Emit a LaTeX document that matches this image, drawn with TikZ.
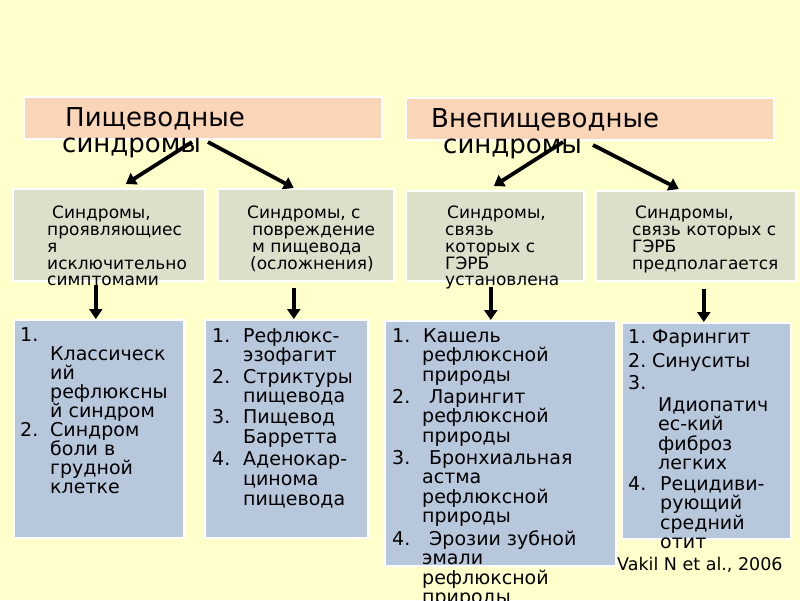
\documentclass[tikz,border=0pt]{standalone}
\usepackage{fontspec}
\setmainfont{DejaVu Sans}
\usetikzlibrary{arrows.meta}
\definecolor{bgyellow}{HTML}{FFFFCC}
\definecolor{peach}{HTML}{FBD5B8}
\definecolor{sage}{HTML}{DCDFC9}
\definecolor{steel}{HTML}{B8C8DC}
\newcommand\tline[5]{\node[#1] (#2) at (#3,#4) {#5};}
\begin{document}
\begin{tikzpicture}[x=1pt,y=-1pt,
  box/.style={draw=white,line width=1.6pt,anchor=north west,inner sep=0pt},
  thead/.style={anchor=base west,inner sep=0pt,font=\fontsize{26}{26}\selectfont},
  tmid/.style={anchor=base west,inner sep=0pt,font=\fontsize{17}{17}\selectfont},
  tlow/.style={anchor=base west,inner sep=0pt,font=\fontsize{19}{19.5}\selectfont},
  tref/.style={anchor=base west,inner sep=0pt,font=\fontsize{17.5}{18}\selectfont},
  arr/.style={line width=3.8pt,-{Triangle[length=10pt,width=13pt]}}]
\useasboundingbox (0,0) rectangle (800,600);
\clip (0,0) rectangle (800,600);
\fill[bgyellow] (0,0) rectangle (800,600);
% header boxes
\node[box,fill=peach,minimum width=358pt,minimum height=42pt] (H1) at (23,96) {};
\node[box,fill=peach,minimum width=368pt,minimum height=42pt] (H2) at (405,97) {};
% level 2 boxes
\node[box,fill=sage,minimum width=192pt,minimum height=92pt] (A) at (12,188) {};
\node[box,fill=sage,minimum width=176pt,minimum height=92pt] (B) at (217,188) {};
\node[box,fill=sage,minimum width=178pt,minimum height=90pt] (C) at (405,190) {};
\node[box,fill=sage,minimum width=200pt,minimum height=90pt] (D) at (595,190) {};
% level 3 boxes
\node[box,fill=steel,minimum width=170pt,minimum height=218pt] (E) at (13,319) {};
\node[box,fill=steel,minimum width=163pt,minimum height=218pt] (F) at (204,319) {};
\node[box,fill=steel,minimum width=231pt,minimum height=245pt] (G) at (384,320) {};
\node[box,fill=steel,minimum width=169pt,minimum height=216pt] (H) at (621,322) {};
% header texts
\tline{thead}{h1a}{65}{126}{Пищеводные}
\tline{thead}{h1b}{62}{152}{синдромы}
\tline{thead}{h2a}{431}{127}{Внепищеводные}
\tline{thead}{h2b}{443}{153}{синдромы}
% level 2 texts
\tline{tmid}{a1}{52}{218}{Синдромы,}
\tline{tmid}{a2}{47}{235}{проявляющиес}
\tline{tmid}{a3}{47}{252}{я}
\tline{tmid}{a4}{47}{269}{исключительно}
\tline{tmid}{a5}{47}{285}{симптомами}
\tline{tmid}{b1}{247}{218}{Синдромы, с}
\tline{tmid}{b2}{252}{235}{повреждение}
\tline{tmid}{b3}{252}{252}{м пищевода}
\tline{tmid}{b4}{250}{269}{(осложнения)}
\tline{tmid}{c1}{447}{218}{Синдромы,}
\tline{tmid}{c2}{445}{235}{связь}
\tline{tmid}{c3}{445}{252}{которых с}
\tline{tmid}{c4}{445}{269}{ГЭРБ}
\tline{tmid}{c5}{445}{285}{установлена}
\tline{tmid}{d1}{635}{218}{Синдромы,}
\tline{tmid}{d2}{632}{235}{связь которых с}
\tline{tmid}{d3}{632}{252}{ГЭРБ}
\tline{tmid}{d4}{632}{269}{предполагается}
% box E
\tline{tlow}{e1}{20}{341}{1.}
\tline{tlow}{e2}{50}{360}{Классическ}
\tline{tlow}{e3}{50}{379}{ий}
\tline{tlow}{e4}{50}{398}{рефлюксны}
\tline{tlow}{e5}{50}{417}{й синдром}
\tline{tlow}{e6}{20}{436}{2.}
\tline{tlow}{e7}{50}{436}{Синдром}
\tline{tlow}{e8}{50}{455}{боли в}
\tline{tlow}{e9}{50}{474}{грудной}
\tline{tlow}{e10}{50}{493}{клетке}
% box F
\tline{tlow}{f1}{212}{342}{1.}
\tline{tlow}{f2}{243}{342}{Рефлюкс-}
\tline{tlow}{f3}{243}{361}{эзофагит}
\tline{tlow}{f4}{212}{383}{2.}
\tline{tlow}{f5}{243}{383}{Стриктуры}
\tline{tlow}{f6}{243}{402}{пищевода}
\tline{tlow}{f7}{212}{423}{3.}
\tline{tlow}{f8}{243}{423}{Пищевод}
\tline{tlow}{f9}{243}{443}{Барретта}
\tline{tlow}{f10}{212}{465}{4.}
\tline{tlow}{f11}{243}{465}{Аденокар-}
\tline{tlow}{f12}{243}{485}{цинома}
\tline{tlow}{f13}{243}{505}{пищевода}
% box G
\tline{tlow}{g1}{392}{342}{1.}
\tline{tlow}{g2}{423}{342}{Кашель}
\tline{tlow}{g3}{422}{361}{рефлюксной}
\tline{tlow}{g4}{422}{381}{природы}
\tline{tlow}{g5}{392}{403}{2.}
\tline{tlow}{g6}{429}{403}{Ларингит}
\tline{tlow}{g7}{422}{422.5}{рефлюксной}
\tline{tlow}{g8}{422}{442}{природы}
\tline{tlow}{g9}{392}{464}{3.}
\tline{tlow}{g10}{429}{464}{Бронхиальная}
\tline{tlow}{g11}{422}{483.5}{астма}
\tline{tlow}{g12}{422}{503}{рефлюксной}
\tline{tlow}{g13}{422}{522.5}{природы}
\tline{tlow}{g14}{392}{545}{4.}
\tline{tlow}{g15}{429}{545}{Эрозии зубной}
\tline{tlow}{g16}{422}{564.5}{эмали}
\tline{tlow}{g17}{422}{584}{рефлюксной}
\tline{tlow}{g18}{422}{603.5}{природы}
% box H
\tline{tlow}{k1}{628}{343}{1.}
\tline{tlow}{k2}{652}{343}{Фарингит}
\tline{tlow}{k3}{628}{367}{2.}
\tline{tlow}{k4}{652}{367}{Синуситы}
\tline{tlow}{k5}{628}{389}{3.}
\tline{tlow}{k6}{658}{411}{Идиопатич}
\tline{tlow}{k7}{658}{430.5}{ес-кий}
\tline{tlow}{k8}{658}{450}{фиброз}
\tline{tlow}{k9}{658}{469.5}{легких}
\tline{tlow}{k10}{628}{490}{4.}
\tline{tlow}{k11}{660}{490}{Рецидиви-}
\tline{tlow}{k12}{660}{509.5}{рующий}
\tline{tlow}{k13}{660}{529}{средний}
\tline{tlow}{k14}{660}{548.5}{отит}
% reference
\tline{tref}{ref}{617}{570}{Vakil N et al., 2006}
% arrows from headers
\coordinate (s1) at (192,142);
\coordinate (s2) at (208,142);
\coordinate (s3) at (563,142);
\coordinate (s4) at (593,145);
\draw[arr] (s1) -- ([xshift=17pt,yshift=4pt]A.north);
\draw[arr] (s2) -- ([xshift=-12pt,yshift=0pt]B.north);
\draw[arr] (s3) -- ([xshift=-1pt,yshift=4pt]C.north);
\draw[arr] (s4) -- ([xshift=-17pt,yshift=1pt]D.north);
% arrows down
\draw[arr] ([xshift=-13pt,yshift=-3pt]A.south) -- ([xshift=-13pt]A.south |- E.north);
\draw[arr] ([xshift=-12pt,yshift=-6pt]B.south) -- ([xshift=-12pt]B.south |- F.north);
\draw[arr] ([xshift=-4pt,yshift=-5pt]C.south) -- ([xshift=-4pt]C.south |- G.north);
\draw[arr] ([xshift=8pt,yshift=-7pt]D.south) -- ([xshift=8pt]D.south |- H.north);
\end{tikzpicture}
\end{document}
